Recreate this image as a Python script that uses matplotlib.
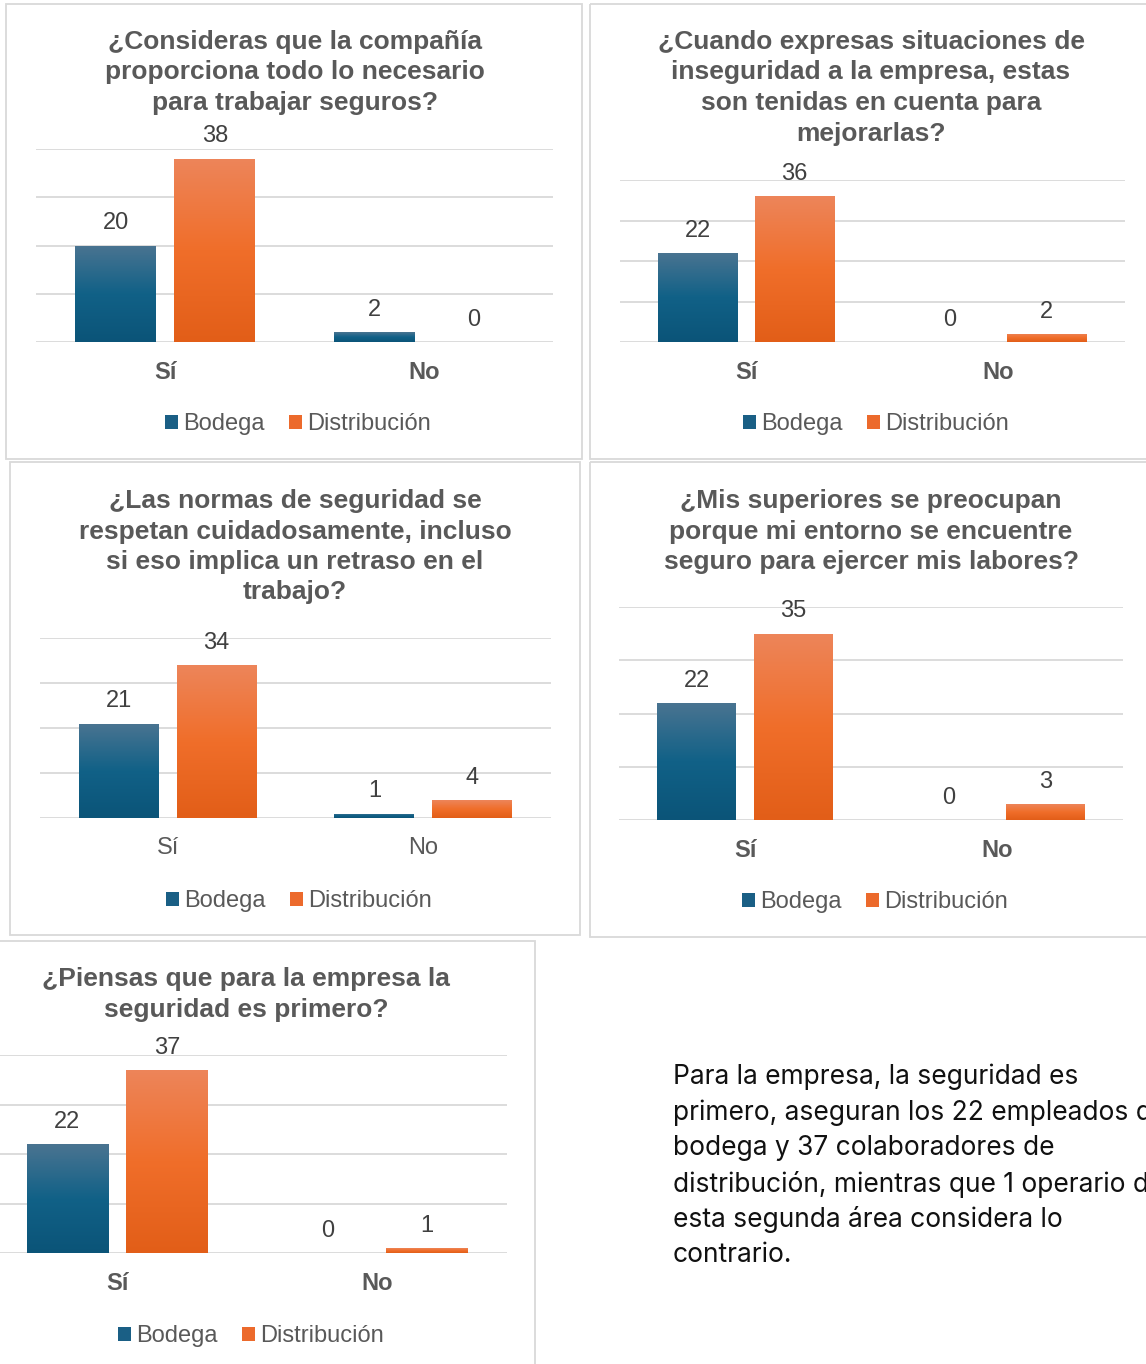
import numpy as np
import matplotlib
matplotlib.use("Agg")
import matplotlib.pyplot as plt
from matplotlib.patches import Rectangle, Patch

plt.rcParams["font.family"] = ["Liberation Sans", "DejaVu Sans"]

# --- data -------------------------------------------------------------
categories = ["Sí", "No"]
series_names = ["Bodega", "Distribución"]

titles = [
    ["¿Consideras que la compañía", "proporciona todo lo necesario", "para trabajar seguros?"],
    ["¿Cuando expresas situaciones de", "inseguridad a la empresa, estas",
     "son tenidas en cuenta para", "mejorarlas?"],
    ["¿Las normas de seguridad se", "respetan cuidadosamente, incluso",
     "si eso implica un retraso en el", "trabajo?"],
    ["¿Mis superiores se preocupan", "porque mi entorno se encuentre",
     "seguro para ejercer mis labores?"],
    ["¿Piensas que para la empresa la", "seguridad es primero?"],
]
bodega = [[20, 2], [22, 0], [21, 1], [22, 0], [22, 0]]
distribucion = [[38, 0], [36, 2], [34, 4], [35, 3], [37, 1]]
bold_categories = [True, True, False, True, True]

summary_lines = [
    "Para la empresa, la seguridad es",
    "primero, aseguran los 22 empleados de",
    "bodega y 37 colaboradores de",
    "distribución, mientras que 1 operario de",
    "esta segunda área considera lo",
    "contrario.",
]

# --- layout (pixels, origin top-left) ---------------------------------
W, H = 1146, 1364
# plot area: left, top gridline, right, baseline
plot_boxes = [
    (36, 149, 553, 342),
    (619.75, 180, 1124.75, 342),
    (40, 638, 551, 818),
    (619, 607, 1123, 820),
    (-13, 1055, 507, 1253),
]
# chart frames: x0, y0, x1, y1
frames = [
    (6, 4, 582, 459),
    (590, 4, 1152, 459),
    (10, 462, 580, 935),
    (590, 462, 1152, 937),
    (-5, 941, 535, 1370),
]
title_pos = [(294.5, 42), (871, 42), (295, 501), (871, 501), (246, 979)]
legend_pos = [(298, 424), (876, 424), (299, 901), (875, 902), (251, 1336)]

BLUE_STOPS = [(0.0, (74, 116, 145)), (0.5, (17, 97, 135)), (1.0, (11, 84, 120))]
ORANGE_STOPS = [(0.0, (237, 133, 90)), (0.5, (240, 110, 42)), (1.0, (226, 94, 24))]
TEXT_GREY = "#595959"
LABEL_GREY = "#404040"
GRID = "#d9d9d9"


def gradient(stops, n=200):
    t = np.linspace(0, 1, n)
    pos = [s[0] for s in stops]
    cols = np.array([s[1] for s in stops], dtype=float) / 255
    img = np.stack([np.interp(t, pos, cols[:, k]) for k in range(3)], axis=1)
    return img[:, None, :]


def gradient_bars(ax, xs, heights, width, stops):
    bars = ax.bar(xs, heights, width, color="none", edgecolor="none", zorder=3)
    for rect, h in zip(bars, heights):
        if h <= 0:
            continue
        x0 = rect.get_x()
        im = ax.imshow(gradient(stops), extent=(x0, x0 + width, 0, h),
                       aspect="auto", origin="upper", zorder=2.5,
                       interpolation="bilinear")
        im.set_clip_path(rect)
    return bars


fig = plt.figure(figsize=(W / 100, H / 100), dpi=100)
fig.patch.set_facecolor("white")

bg = fig.add_axes([0, 0, 1, 1])
bg.set_xlim(0, W)
bg.set_ylim(H, 0)
bg.axis("off")

for x0, y0, x1, y1 in frames:
    bg.add_patch(Rectangle((x0, y0), x1 - x0, y1 - y0, fill=False,
                           edgecolor=GRID, lw=1.3))

handles = [Patch(facecolor="#1a5f85"), Patch(facecolor="#ec6a2c")]
bar_w = 0.313
offset = 0.1915

for i in range(5):
    l, t, r, b = plot_boxes[i]
    ax = fig.add_axes([l / W, 1 - b / H, (r - l) / W, (b - t) / H])
    ax.set_facecolor("none")
    x = np.arange(len(categories))

    gradient_bars(ax, x - offset, bodega[i], bar_w, BLUE_STOPS)
    gradient_bars(ax, x + offset, distribucion[i], bar_w, ORANGE_STOPS)

    for xs, vals in ((x - offset, bodega[i]), (x + offset, distribucion[i])):
        for xv, v in zip(xs, vals):
            ax.annotate(str(v), (xv, v), xytext=(0, 16), textcoords="offset points",
                        ha="center", va="center", fontsize=17, color=LABEL_GREY)

    ax.set_xlim(-0.5, 1.5)
    ax.set_ylim(0, 40)
    ax.set_yticks([0, 10, 20, 30, 40])
    ax.yaxis.grid(True, color=GRID, lw=1.3)
    ax.set_axisbelow(True)
    ax.tick_params(axis="y", left=False, labelleft=False)
    ax.set_xticks(x)
    ax.set_xticklabels(categories, fontsize=17, color=TEXT_GREY,
                       fontweight="bold" if bold_categories[i] else "normal")
    ax.tick_params(axis="x", length=0, pad=13.5)
    for s in ax.spines.values():
        s.set_visible(False)

    # title
    cx, cy = title_pos[i]
    for k, line in enumerate(titles[i]):
        bg.text(cx, cy + k * 30.5, line, ha="center", va="center", fontsize=19,
                fontweight="bold", color=TEXT_GREY)

    lx, ly = legend_pos[i]
    leg = ax.legend(handles, series_names, loc="center", bbox_to_anchor=(lx, ly),
                    bbox_transform=bg.transData, ncol=2, frameon=False,
                    fontsize=17, handlelength=0.55, handleheight=0.55,
                    handletextpad=0.25, columnspacing=1.0, borderpad=0)
    for txt in leg.get_texts():
        txt.set_color(TEXT_GREY)

for k, line in enumerate(summary_lines):
    bg.text(673, 1077 + k * 35.7, line, ha="left", va="center", fontsize=19,
            family=["Inter", "DejaVu Sans"], color="#111111")

fig.savefig("out.png", dpi=100)
